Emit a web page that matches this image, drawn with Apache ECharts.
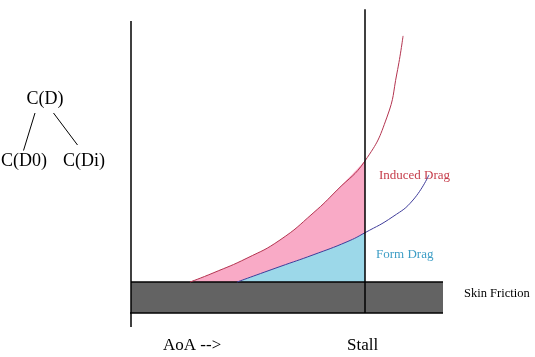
<!DOCTYPE html>
<html>
<head>
<meta charset="utf-8">
<script src="https://cdn.jsdelivr.net/npm/echarts@6/dist/echarts.min.js"></script>
<style>html,body{margin:0;padding:0;background:#fff;}#c{width:535px;height:357px;}</style>
</head>
<body>
<div id="c"></div>
<script>
// AoA (deg) vs drag (arbitrary units)
var stallAoA = 15;
var skinFriction = 10.6;
var xMax = 20, yMax = 100;
var inducedDrag = [[3.78,10.6],[5.26,13.7],[7.44,18.8],[9.55,25.0],[11.67,34.2],[13.21,42.1],[15.0,52.1],[16.41,67.1],[17.05,82.2],[17.44,94.9]];
var formDrag = [[6.79,10.6],[9.55,15.9],[11.67,19.9],[13.85,24.4],[15.0,27.5],[16.79,33.0],[18.08,38.7],[19.1,47.3]];
var skinBar = [[0,skinFriction],[xMax,skinFriction]];
var yAxisLine = [[0,-4.8],[0,yMax]];
var xAxisLine = [[-1.15,0],[xMax,0]];
var stallLine = [[stallAoA,0],[stallAoA,104]];
var labels = {induced:'Induced Drag', form:'Form Drag', skin:'Skin Friction', aoa:'AoA -->', stall:'Stall', cd:'C(D)', cd0:'C(D0)', cdi:'C(Di)'};

var inducedFill = inducedDrag.filter(function(p){return p[0] <= stallAoA;});
var formFill = formDrag.filter(function(p){return p[0] <= stallAoA;});

var serif = 'Liberation Serif, Times New Roman, serif';
var smoothness = 0.5;
function plainLine(data, color, width, extra){
  var s = {type:'line', data:data, symbol:'none', clip:false, silent:true, animation:false,
    lineStyle:{color:color, width:width}};
  for (var k in extra) s[k] = extra[k];
  return s;
}
var chart = echarts.init(document.getElementById('c'));
chart.setOption({
  animation:false,
  grid:{left:131, top:21, width:312, height:292},
  xAxis:{type:'value', min:0, max:xMax, show:false},
  yAxis:{type:'value', min:0, max:yMax, show:false},
  series:[
    plainLine(inducedFill, 'rgba(0,0,0,0)', 0, {smooth:smoothness, areaStyle:{color:'#F9AAC6', opacity:1}}),
    plainLine(formFill, 'rgba(0,0,0,0)', 0, {smooth:smoothness, areaStyle:{color:'#9CD8E9', opacity:1}}),
    plainLine(skinBar, '#000', 1.5, {areaStyle:{color:'#636363', opacity:1}}),
    plainLine(inducedDrag, '#B3334F', 1, {smooth:smoothness}),
    plainLine(formDrag, '#3F3C9A', 1, {smooth:smoothness}),
    plainLine(yAxisLine, '#000', 1.5),
    plainLine(xAxisLine, '#000', 1.5),
    plainLine(stallLine, '#000', 1.5)
  ],
  graphic:[
    {type:'text', style:{text:labels.cd, x:45, y:99.5, font:'18px '+serif, fill:'#000', align:'center', verticalAlign:'middle'}},
    {type:'text', style:{text:labels.cd0, x:24, y:161, font:'18px '+serif, fill:'#000', align:'center', verticalAlign:'middle'}},
    {type:'text', style:{text:labels.cdi, x:84, y:161, font:'18px '+serif, fill:'#000', align:'center', verticalAlign:'middle'}},
    {type:'line', shape:{x1:35, y1:113, x2:23.5, y2:150.5}, style:{stroke:'#000', lineWidth:1}},
    {type:'line', shape:{x1:53.5, y1:113, x2:77.5, y2:145}, style:{stroke:'#000', lineWidth:1}},
    {type:'text', style:{text:labels.induced, x:379, y:175.5, font:'13px '+serif, fill:'#C63E4C', align:'left', verticalAlign:'middle'}},
    {type:'text', style:{text:labels.form, x:376, y:255, font:'13px '+serif, fill:'#3E9EC6', align:'left', verticalAlign:'middle'}},
    {type:'text', style:{text:labels.skin, x:464, y:293.5, font:'12.5px '+serif, fill:'#000', align:'left', verticalAlign:'middle'}},
    {type:'text', style:{text:labels.aoa, x:163, y:346, font:'17px '+serif, fill:'#000', align:'left', verticalAlign:'middle'}},
    {type:'text', style:{text:labels.stall, x:347, y:346, font:'17px '+serif, fill:'#000', align:'left', verticalAlign:'middle'}}
  ]
});
</script>
</body>
</html>
